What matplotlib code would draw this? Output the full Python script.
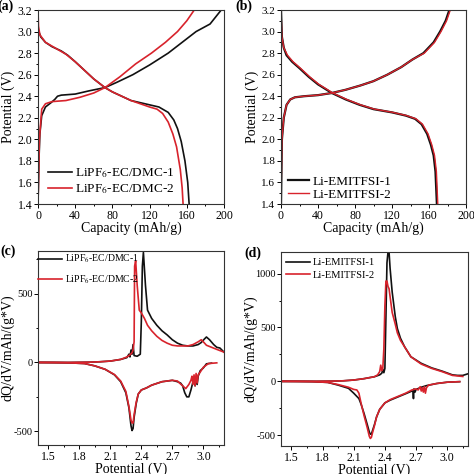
import matplotlib
matplotlib.use("Agg")
import matplotlib.pyplot as plt
from matplotlib.ticker import AutoMinorLocator, FormatStrFormatter

plt.rcParams['font.family'] = ['Liberation Serif', 'DejaVu Serif']
plt.rcParams['mathtext.fontset'] = 'stix'
plt.rcParams['axes.unicode_minus'] = False

BLACK = '#111111'
RED = '#d8232c'

# ---- (a) LiPF6-EC/DMC charge/discharge ----
a1_chg_x = [0, 1, 2, 4, 8, 14, 18, 21, 25, 40, 55, 72, 85, 102, 120, 140, 155, 170, 185, 197]
a1_chg_y = [1.4, 1.8, 2.05, 2.22, 2.3, 2.34, 2.37, 2.4, 2.41, 2.42, 2.45, 2.48, 2.53, 2.6, 2.69, 2.8, 2.9, 3.0, 3.07, 3.2]
a1_dis_x = [0, 3, 8, 15, 25, 32, 40, 50, 60, 72, 80, 90, 100, 110, 120, 130, 140, 146, 150, 154, 158, 161, 162.5]
a1_dis_y = [3.02, 2.95, 2.9, 2.86, 2.82, 2.78, 2.72, 2.64, 2.56, 2.48, 2.44, 2.4, 2.36, 2.34, 2.32, 2.3, 2.25, 2.18, 2.1, 1.98, 1.8, 1.6, 1.4]
a2_chg_x = [0, 1.5, 4, 8, 15, 30, 45, 60, 72, 80, 88, 105, 122, 137, 150, 160, 168]
a2_chg_y = [1.4, 2.0, 2.28, 2.33, 2.35, 2.36, 2.39, 2.43, 2.48, 2.53, 2.58, 2.7, 2.8, 2.9, 3.0, 3.1, 3.2]
a2_dis_x = [0, 0.5, 2, 8, 18, 30, 40, 50, 60, 72, 80, 90, 100, 110, 120, 128, 134, 140, 145, 149, 153, 155, 156]
a2_dis_y = [3.2, 3.05, 2.97, 2.9, 2.85, 2.79, 2.72, 2.64, 2.56, 2.48, 2.44, 2.4, 2.36, 2.33, 2.3, 2.28, 2.24, 2.16, 2.05, 1.93, 1.72, 1.55, 1.4]

# ---- (b) Li-EMITFSI charge/discharge ----
b1_chg_x = [0, 1, 3, 6, 10, 15, 25, 40, 55, 70, 86, 100, 115, 130, 142, 154, 165, 172, 178, 182]
b1_chg_y = [1.4, 2.0, 2.2, 2.32, 2.37, 2.39, 2.4, 2.41, 2.43, 2.46, 2.5, 2.54, 2.6, 2.67, 2.74, 2.8, 2.9, 3.0, 3.1, 3.2]
b1_dis_x = [0, 1, 3, 6, 12, 20, 30, 40, 55, 70, 85, 100, 120, 135, 145, 152, 158, 162, 165, 167, 168.5]
b1_dis_y = [3.2, 2.95, 2.85, 2.78, 2.72, 2.66, 2.58, 2.51, 2.43, 2.37, 2.32, 2.28, 2.25, 2.22, 2.19, 2.14, 2.05, 1.95, 1.85, 1.7, 1.4]
b2_chg_x = [0, 1, 3, 6, 10, 15, 25, 40, 55, 70, 86, 100, 115, 130, 142, 155, 166, 173, 179, 183]
b2_chg_y = [1.4, 2.0, 2.2, 2.32, 2.37, 2.39, 2.4, 2.41, 2.43, 2.46, 2.5, 2.54, 2.6, 2.67, 2.74, 2.8, 2.9, 3.0, 3.1, 3.2]
b2_dis_x = [0, 1, 3, 7, 13, 21, 31, 41, 56, 71, 86, 101, 121, 136, 146, 153, 159, 163, 166, 168, 169.5]
b2_dis_y = [3.2, 2.95, 2.85, 2.78, 2.72, 2.66, 2.58, 2.51, 2.43, 2.37, 2.32, 2.28, 2.25, 2.22, 2.19, 2.14, 2.05, 1.95, 1.85, 1.7, 1.4]

# ---- (c) LiPF6-EC/DMC dQ/dV ----
c1_chg_x = [1.4, 1.7, 1.9, 2.0, 2.1, 2.2, 2.26, 2.28, 2.29, 2.30, 2.31, 2.32, 2.33, 2.36, 2.39, 2.40, 2.41, 2.42, 2.44, 2.46, 2.5, 2.55, 2.6, 2.65, 2.7, 2.75, 2.8, 2.85, 2.9, 2.95, 2.98, 3.01, 3.03, 3.06, 3.1, 3.13, 3.16, 3.2]
c1_chg_y = [0, 0, 2, 5, 10, 22, 35, 60, 40, 90, 60, 130, 50, 45, 60, 300, 700, 800, 560, 380, 320, 270, 230, 200, 165, 140, 125, 120, 120, 130, 145, 170, 185, 165, 130, 110, 105, 75]
c2_chg_x = [1.4, 1.7, 1.9, 2.0, 2.1, 2.2, 2.26, 2.29, 2.31, 2.32, 2.33, 2.335, 2.345, 2.36, 2.38, 2.4, 2.43, 2.46, 2.5, 2.55, 2.6, 2.65, 2.7, 2.75, 2.8, 2.85, 2.9, 2.95, 2.98, 3.0, 3.03, 3.08, 3.13, 3.2]
c2_chg_y = [0, 0, 2, 5, 10, 22, 40, 55, 70, 90, 150, 700, 740, 560, 380, 360, 320, 270, 230, 190, 160, 140, 125, 120, 120, 120, 130, 150, 165, 150, 125, 110, 95, 75]
c1_dis_x = [3.08, 3.03, 3.0, 2.97, 2.95, 2.94, 2.93, 2.92, 2.91, 2.90, 2.88, 2.86, 2.84, 2.82, 2.80, 2.78, 2.75, 2.7, 2.6, 2.5, 2.45, 2.4, 2.37, 2.35, 2.33, 2.32, 2.31, 2.30, 2.28, 2.25, 2.2, 2.14, 2.05, 1.95, 1.85, 1.7, 1.55, 1.4]
c1_dis_y = [-5, -10, -40, -60, -100, -160, -110, -170, -120, -140, -200, -250, -250, -220, -170, -150, -140, -130, -140, -165, -185, -200, -230, -300, -400, -480, -495, -460, -330, -220, -140, -90, -50, -25, -8, -3, -1, 0]
c2_dis_x = [3.13, 3.05, 3.0, 2.97, 2.95, 2.94, 2.93, 2.92, 2.91, 2.90, 2.89, 2.88, 2.86, 2.83, 2.8, 2.77, 2.75, 2.7, 2.6, 2.5, 2.45, 2.4, 2.37, 2.35, 2.33, 2.32, 2.31, 2.30, 2.28, 2.25, 2.2, 2.14, 2.05, 1.95, 1.85, 1.7, 1.55, 1.4]
c2_dis_y = [-3, -8, -35, -70, -90, -150, -80, -170, -90, -160, -100, -130, -160, -190, -170, -150, -135, -130, -140, -165, -185, -200, -230, -290, -380, -440, -440, -420, -320, -210, -135, -88, -50, -25, -8, -3, -1, 0]

# ---- (d) Li-EMITFSI dQ/dV ----
d1_chg_x = [1.4, 1.7, 1.9, 2.0, 2.1, 2.2, 2.3, 2.35, 2.37, 2.38, 2.39, 2.40, 2.41, 2.42, 2.43, 2.44, 2.45, 2.47, 2.5, 2.52, 2.55, 2.59, 2.65, 2.75, 2.85, 2.95, 3.05, 3.1, 3.15, 3.2]
d1_chg_y = [0, 0, 2, 5, 12, 25, 43, 60, 75, 110, 80, 120, 600, 1100, 1200, 1200, 1050, 830, 600, 490, 400, 320, 228, 167, 125, 95, 60, 55, 55, 70]
d2_chg_x = [1.4, 1.7, 1.9, 2.0, 2.1, 2.2, 2.3, 2.33, 2.35, 2.36, 2.37, 2.38, 2.39, 2.40, 2.41, 2.42, 2.43, 2.44, 2.47, 2.5, 2.52, 2.55, 2.59, 2.65, 2.75, 2.85, 2.95, 3.05, 3.15]
d2_chg_y = [0, 0, 2, 5, 12, 25, 43, 60, 90, 150, 100, 120, 300, 700, 930, 930, 880, 860, 640, 530, 450, 380, 320, 228, 160, 120, 90, 55, 45]
d1_dis_x = [3.12, 3.0, 2.9, 2.8, 2.75, 2.7, 2.69, 2.68, 2.675, 2.67, 2.66, 2.6, 2.5, 2.45, 2.4, 2.35, 2.32, 2.3, 2.28, 2.27, 2.26, 2.25, 2.23, 2.2, 2.17, 2.15, 2.1, 2.05, 1.95, 1.85, 1.7, 1.55, 1.4]
d1_dis_y = [-3, -8, -20, -40, -55, -75, -100, -70, -160, -90, -90, -115, -155, -175, -200, -260, -330, -400, -460, -490, -490, -470, -400, -300, -210, -160, -110, -65, -35, -10, -3, -1, 0]
d2_dis_x = [3.12, 3.0, 2.9, 2.82, 2.8, 2.79, 2.78, 2.77, 2.76, 2.75, 2.74, 2.72, 2.7, 2.66, 2.6, 2.5, 2.45, 2.4, 2.35, 2.32, 2.3, 2.28, 2.27, 2.26, 2.25, 2.23, 2.2, 2.17, 2.15, 2.13, 2.1, 2.05, 1.95, 1.85, 1.7, 1.55, 1.4]
d2_dis_y = [-3, -8, -20, -35, -60, -110, -50, -100, -60, -90, -50, -80, -70, -80, -110, -150, -170, -200, -260, -330, -410, -480, -520, -530, -510, -430, -320, -200, -110, -80, -75, -55, -30, -10, -3, -1, 0]

a_labels = ['LiPF$_6$-EC/DMC-1', 'LiPF$_6$-EC/DMC-2']
b_labels = ['Li-EMITFSI-1', 'Li-EMITFSI-2']

fig = plt.figure(figsize=(4.74, 4.74), dpi=100)
W = 474.0
def box(l, t, r, b):
    return [l / W, 1 - b / W, (r - l) / W, (b - t) / W]

ax_a = fig.add_axes(box(38, 10, 224, 204))
ax_b = fig.add_axes(box(281, 10, 466, 204))
ax_c = fig.add_axes(box(38, 251, 224, 445))
ax_d = fig.add_axes(box(281, 252, 468, 446))

lw = 1.2
ax_a.plot(a1_chg_x, a1_chg_y, color=BLACK, lw=lw, label=a_labels[0])
ax_a.plot(a1_dis_x, a1_dis_y, color=BLACK, lw=lw)
ax_a.plot(a2_chg_x, a2_chg_y, color=RED, lw=lw, label=a_labels[1])
ax_a.plot(a2_dis_x, a2_dis_y, color=RED, lw=lw)

ax_b.plot(b1_chg_x, b1_chg_y, color=BLACK, lw=1.6, label=b_labels[0])
ax_b.plot(b1_dis_x, b1_dis_y, color=BLACK, lw=1.6)
ax_b.plot(b2_chg_x, b2_chg_y, color=RED, lw=1.0, label=b_labels[1])
ax_b.plot(b2_dis_x, b2_dis_y, color=RED, lw=1.0)

ax_c.plot(c1_chg_x, c1_chg_y, color=BLACK, lw=lw, label=a_labels[0])
ax_c.plot(c1_dis_x, c1_dis_y, color=BLACK, lw=lw)
ax_c.plot(c2_chg_x, c2_chg_y, color=RED, lw=lw, label=a_labels[1])
ax_c.plot(c2_dis_x, c2_dis_y, color=RED, lw=lw)

ax_d.plot(d1_chg_x, d1_chg_y, color=BLACK, lw=lw, label=b_labels[0])
ax_d.plot(d1_dis_x, d1_dis_y, color=BLACK, lw=lw)
ax_d.plot(d2_chg_x, d2_chg_y, color=RED, lw=lw, label=b_labels[1])
ax_d.plot(d2_dis_x, d2_dis_y, color=RED, lw=lw)

for ax in (ax_a, ax_b):
    ax.set_xlim(0, 200)
    ax.set_ylim(1.4, 3.2)
    ax.set_xticks([0, 40, 80, 120, 160, 200])
    ax.set_yticks([1.4, 1.6, 1.8, 2.0, 2.2, 2.4, 2.6, 2.8, 3.0, 3.2])
    ax.yaxis.set_major_formatter(FormatStrFormatter('%.1f'))
    ax.set_xlabel('Capacity (mAh/g)', fontsize=10, labelpad=0)
    ax.set_ylabel('Potential (V)', fontsize=10)

for ax in (ax_c, ax_d):
    ax.set_xlim(1.4, 3.2)
    ax.set_xticks([1.5, 1.8, 2.1, 2.4, 2.7, 3.0])
    ax.set_xlabel('Potential (V)', fontsize=10, labelpad=0)
    ax.set_ylabel('dQ/dV/mAh/(g*V)', fontsize=10)
ax_c.set_ylim(-600, 810)
ax_c.set_yticks([-500, 0, 500])
ax_d.set_ylim(-600, 1200)
ax_d.set_yticks([-500, 0, 500, 1000])

for ax in (ax_a, ax_b, ax_c, ax_d):
    ax.xaxis.set_minor_locator(AutoMinorLocator(2))
    ax.yaxis.set_minor_locator(AutoMinorLocator(2))
    ax.tick_params(which='both', direction='out', labelsize=8.5, width=0.7, pad=1.2)
    ax.tick_params(which='major', length=2.8)
    ax.tick_params(which='minor', length=1.6)
    for s in ax.spines.values():
        s.set_linewidth(0.8)
        s.set_color('#333333')
ax_b.tick_params(axis='y', labelsize=8)
ax_c.tick_params(axis='y', labelsize=7.5)
ax_d.tick_params(axis='y', labelsize=7.5)

ax_a.yaxis.set_label_coords(-0.124, 0.5)
ax_b.yaxis.set_label_coords(-0.119, 0.5)
ax_c.yaxis.set_label_coords(-0.124, 0.5)
ax_d.yaxis.set_label_coords(-0.128, 0.5)

leg_kw = dict(frameon=False, borderpad=0, borderaxespad=0, handletextpad=0.25)
ax_a.legend(loc='lower left', bbox_to_anchor=(0.054, 0.04), fontsize=9.5,
            handlelength=1.8, labelspacing=0.15, **leg_kw)
ax_b.legend(loc='lower left', bbox_to_anchor=(0.038, 0.018), fontsize=9.5,
            handlelength=1.6, labelspacing=0.05, **leg_kw)
ax_c.legend(loc='upper left', bbox_to_anchor=(0.0, 0.99), fontsize=7,
            handlelength=2.5, labelspacing=0.8, **leg_kw)
ax_d.legend(loc='upper left', bbox_to_anchor=(0.027, 0.97), fontsize=7.6,
            handlelength=2.3, labelspacing=0.3, **leg_kw)

fig.text(-0.005, 1.0, '(a)', fontsize=10, fontweight='bold', va='top')
fig.text(0.497, 1.0, '(b)', fontsize=10, fontweight='bold', va='top')
fig.text(0.0, 0.485, '(c)', fontsize=10, fontweight='bold', va='top')
fig.text(0.515, 0.48, '(d)', fontsize=10, fontweight='bold', va='top')

fig.savefig('out.png', dpi=100)
